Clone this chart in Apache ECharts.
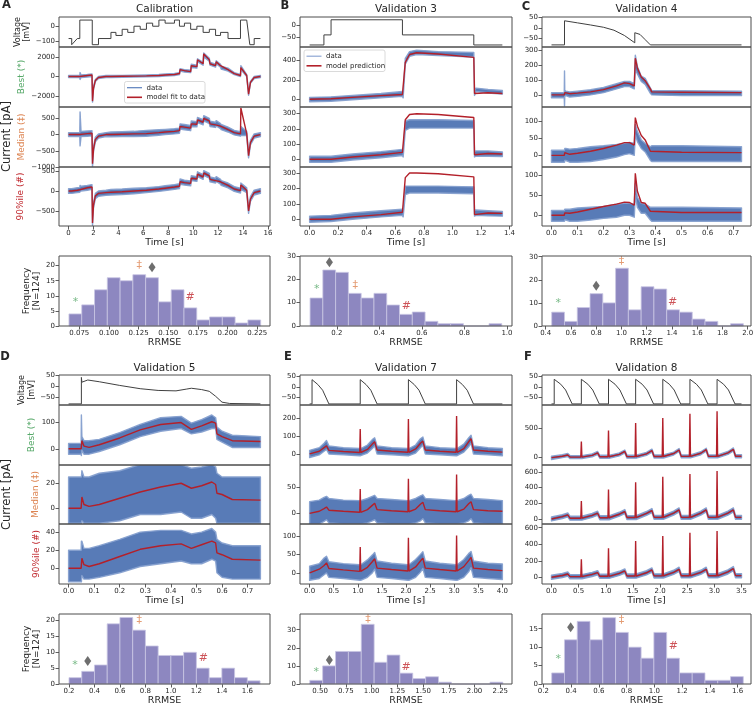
<!DOCTYPE html>
<html>
<head>
<meta charset="utf-8">
<script src="https://cdn.jsdelivr.net/npm/echarts@6.0.0/dist/echarts.min.js"></script>
<style>
  html, body { margin: 0; padding: 0; background: #fff; }
  #main { width: 756px; height: 706px; }
</style>
</head>
<body>
<div id="main"></div>
<script>
// ---------- A: Calibration ----------
const vAT = [0, 0.25, 0.25, 0.7, 0.9, 0.9, 1.9, 1.9, 2.4, 2.4, 3.4, 3.4, 3.8, 3.8, 4.3, 4.3, 4.75, 4.75, 5.25, 5.25, 5.75, 5.75, 6.25, 6.25, 6.75, 6.75, 7.25, 7.25, 7.75, 7.75, 8.5, 8.5, 8.9, 8.9, 9.3, 9.3, 9.8, 9.8, 10.3, 10.3, 10.8, 10.8, 11.3, 11.3, 11.8, 11.8, 12.2, 12.2, 12.8, 12.8, 13.8, 13.8, 14.3, 14.55, 14.9, 14.9, 15.4];
const vAV = [-80, -80, -120, -80, -80, 40, 40, -120, -120, -80, -80, -40, -40, -60, -60, -20, -20, -40, -40, 0, 0, -20, -20, 20, 20, 0, 0, 40, 40, 20, 20, 40, 40, 0, 0, 20, 20, -20, -20, 0, 0, -40, -40, -20, -20, -60, -60, -40, -40, -80, -80, 40, 40, -120, -120, -80, -80];
const tA = [0, 0.25, 0.7, 0.9, 0.92, 1.0, 1.5, 1.88, 1.92, 2.0, 2.15, 2.4, 3.0, 3.4, 4.3, 5.25, 6.25, 7.25, 7.75, 8.5, 8.9, 8.95, 9.3, 9.8, 9.85, 10.3, 10.35, 10.8, 10.85, 11.3, 11.35, 11.8, 11.85, 12.2, 12.25, 12.8, 13.3, 13.8, 13.83, 14.3, 14.45, 14.6, 14.9, 15.4];
const aBestModel = [0, 0, 0, 0, 50, 50, 100, 150, -2500, -1200, -400, -100, 0, 0, 20, 40, 60, 100, 150, 200, 300, 700, 600, 500, 1100, 1000, 1700, 1300, 2300, 1700, 1300, 1100, 1500, 1100, 900, 700, 300, 100, 900, 100, -1800, -600, -100, 0];
const aBestLo = [-100, -100, -100, -100, -300, -100, -50, 0, -2600, -1300, -500, -200, -100, -100, -80, -60, -40, 0, 50, 100, 200, 550, 450, 400, 900, 850, 1500, 1150, 2000, 1550, 1150, 950, 1300, 950, 750, 550, 200, 0, 700, 0, -1900, -700, -200, -100];
const aBestHi = [100, 100, 100, 100, 400, 150, 200, 250, -2300, -1000, -300, 0, 100, 100, 120, 140, 160, 200, 250, 300, 400, 800, 700, 650, 1250, 1150, 1800, 1450, 2400, 1850, 1450, 1250, 1600, 1250, 1050, 850, 400, 200, 1100, 200, -1600, -500, 0, 100];
const aMedModel = [0, 0, 0, 0, 20, 20, 30, 40, -900, -450, -150, -50, 0, 0, 10, 20, 30, 60, 80, 100, 120, 250, 230, 200, 330, 320, 450, 380, 500, 420, 330, 300, 350, 260, 230, 150, 60, 20, 820, 30, -650, -250, -50, 0];
const aMedLo = [-60, -60, -60, -60, -350, -60, -50, -40, -1000, -520, -220, -110, -60, -70, -60, -60, -50, -20, 0, 20, 40, 170, 150, 120, 250, 240, 370, 300, 420, 340, 250, 220, 270, 180, 150, 80, -10, -50, -30, -30, -720, -320, -110, -60];
const aMedHi = [60, 60, 60, 60, 700, 100, 110, 120, -800, -380, -80, 20, 60, 80, 90, 100, 130, 150, 160, 180, 200, 330, 310, 280, 420, 400, 530, 460, 580, 500, 410, 380, 430, 340, 310, 230, 130, 90, 250, 100, -580, -180, 20, 60];
const aP90Model = [0, 0, 20, 30, 60, 60, 80, 100, -800, -350, -120, -60, -40, -30, -20, 0, 20, 50, 70, 100, 120, 230, 210, 190, 320, 300, 420, 350, 450, 380, 290, 260, 300, 230, 200, 140, 50, 10, 150, 20, -500, -200, -40, 0];
const aP90Lo = [-60, -60, -40, -30, -20, 0, 20, 40, -860, -420, -190, -130, -110, -100, -90, -70, -40, -10, 10, 40, 60, 170, 150, 130, 260, 240, 360, 290, 390, 320, 230, 200, 240, 170, 140, 80, -10, -50, 40, -40, -560, -260, -100, -60];
const aP90Hi = [60, 60, 80, 90, 140, 120, 140, 160, -740, -290, -60, 0, 20, 40, 50, 70, 80, 110, 130, 160, 180, 300, 270, 250, 380, 360, 480, 410, 510, 440, 350, 320, 360, 290, 260, 200, 110, 70, 200, 80, -440, -140, 20, 60];
const histACounts = [4, 7, 12, 16, 15, 17, 16, 8, 12, 6, 2, 3, 3, 1, 2];
const histAStart = 0.0663, histAWidth = 0.01077;
const histAMarkX = [0.0719, 0.1256, 0.1683], histAMarkY = [7.8, 20.2, 9.4], histADiamond = [0.1363, 19.5];

// ---------- B: Validation 3 ----------
const vBT = [0, 0.1, 0.1, 0.15, 0.15, 0.65, 0.65, 1.15, 1.15, 1.35];
const vBV = [-80, -80, -40, -40, 20, 20, -40, -40, -80, -80];
const tB = [0, 0.15, 0.3, 0.5, 0.65, 0.655, 0.67, 0.7, 0.75, 0.9, 1.15, 1.155, 1.165, 1.25, 1.35];
const bBestModel = [0, 5, 20, 38, 50, 40, 380, 460, 478, 465, 430, 60, 75, 68, 60];
const bBestLo = [-25, -20, -5, 15, 30, 15, 360, 440, 460, 450, 435, 40, 80, 65, 55];
const bBestHi = [20, 25, 40, 60, 80, 60, 420, 490, 505, 490, 480, 80, 115, 100, 90];
const bMedModel = [0, 0, 15, 30, 45, 35, 260, 295, 300, 295, 275, 30, 40, 38, 35];
const bMedLo = [-20, -20, -5, 10, 25, 15, 190, 205, 205, 205, 205, 15, 20, 20, 18];
const bMedHi = [20, 20, 35, 50, 65, 55, 250, 260, 260, 260, 255, 50, 55, 55, 48];
const bP90Model = [0, 0, 15, 30, 45, 35, 270, 300, 300, 295, 275, 30, 42, 40, 38];
const bP90Lo = [-20, -15, 0, 15, 25, 15, 160, 170, 170, 170, 165, 20, 25, 22, 20];
const bP90Hi = [20, 25, 40, 55, 65, 55, 215, 215, 215, 215, 210, 55, 60, 55, 50];
const histBCounts = [12, 24, 23, 14, 12, 14, 9, 5, 6, 2, 1, 1, 0, 0, 1];
const histBStart = 0.074, histBWidth = 0.0601;
const histBMarkX = [0.1055, 0.2866, 0.527], histBMarkY = [15.8, 17.3, 8.3], histBDiamond = [0.165, 27.3];

// ---------- C: Validation 4 ----------
const vCT = [0, 0.05, 0.05, 0.1, 0.15, 0.2, 0.24, 0.28, 0.32, 0.32, 0.34, 0.36, 0.38, 0.73];
const vCV = [-80, -80, 35, 25, 15, 4, -10, -35, -70, -22, -30, -55, -80, -80];
const tC = [0, 0.049, 0.05, 0.051, 0.055, 0.07, 0.1, 0.15, 0.2, 0.25, 0.28, 0.3, 0.318, 0.322, 0.33, 0.345, 0.36, 0.38, 0.385, 0.5, 0.73];
const cBestModel = [0, 0, 5, 15, 20, 8, 12, 20, 35, 60, 80, 75, 60, 245, 180, 120, 95, 40, 20, 18, 15];
const cBestLo = [-20, -20, -75, -10, -5, -15, -10, 0, 15, 40, 55, 55, 40, 170, 140, 90, 70, 10, 0, -5, -5];
const cBestHi = [15, 15, 160, 30, 25, 20, 25, 35, 50, 75, 90, 90, 75, 265, 190, 125, 110, 45, 30, 28, 25];
const cMedModel = [0, 0, 2, 8, 10, 3, 6, 12, 20, 30, 37, 37, 30, 110, 85, 58, 45, 12, 10, 9, 8];
const cMedLo = [-20, -20, -20, -15, -15, -20, -20, -18, -12, -5, 2, 5, 0, 60, 40, 20, 10, -15, -18, -18, -18];
const cMedHi = [15, 15, 15, 20, 20, 18, 20, 25, 28, 32, 35, 38, 35, 90, 70, 45, 35, 25, 28, 28, 25];
const cP90Model = [0, 0, 2, 6, 8, 5, 8, 15, 22, 28, 33, 32, 25, 105, 60, 32, 30, 10, 8, 7, 7];
const cP90Lo = [-15, -15, -15, -12, -12, -15, -15, -12, -8, -5, 0, 0, -5, 50, 20, 5, 5, -12, -15, -15, -15];
const cP90Hi = [12, 12, 12, 15, 15, 15, 18, 20, 22, 28, 30, 30, 28, 80, 45, 30, 28, 20, 20, 20, 18];
const histCCounts = [6, 2, 8, 14, 10, 25, 7, 17, 16, 7, 6, 3, 2, 0, 1];
const histCStart = 0.4475, histCWidth = 0.1012;
const histCMarkX = [0.5, 1.0, 1.405], histCMarkY = [10, 28.2, 10.2], histCDiamond = [0.8, 17.4];

// ---------- D: Validation 5 ----------
const vDT = [0, 0.05, 0.05, 0.052, 0.075, 0.12, 0.2, 0.28, 0.35, 0.42, 0.46, 0.48, 0.52, 0.55, 0.575, 0.6, 0.63, 0.75];
const vDV = [-80, -80, 42, 20, 30, 22, 5, -10, -18, -20, -12, -8, -14, -22, -45, -72, -78, -80];
const tD = [0, 0.049, 0.05, 0.052, 0.06, 0.08, 0.12, 0.2, 0.28, 0.36, 0.44, 0.48, 0.52, 0.56, 0.575, 0.58, 0.6, 0.64, 0.75];
const dBestModel = [0, 0, 0, 30, 10, 5, 15, 40, 70, 90, 97, 72, 85, 100, 95, 55, 45, 30, 27];
const dBestLo = [-20, -20, -25, -5, -20, -20, -10, 15, 45, 65, 75, 55, 62, 75, 75, 35, 25, 5, 5];
const dBestHi = [20, 20, 125, 45, 30, 30, 35, 60, 90, 115, 120, 95, 108, 125, 115, 80, 65, 50, 45];
const dMedModel = [0, 0, 0, 9, 3, 1.5, 3, 8, 13, 17, 20, 16, 18, 21, 19, 12, 11, 7, 6.5];
const dMedLo = [-12, -12, -12, -10, -12, -12, -12, -10, -5, -5, -3, -8, -8, -5, -8, -12, -12, -12, -12];
const dMedHi = [25, 25, 25, 30, 25, 25, 28, 30, 35, 35, 35, 32, 33, 35, 33, 28, 25, 25, 25];
const dP90Model = [0, 0, 0, 11, 4, 2, 5, 13, 21, 25, 27, 22, 26, 30, 28, 17, 15, 10, 9];
const dP90Lo = [-15, -15, -15, -8, -12, -12, -10, -5, 2, 5, 8, 5, 5, 10, 8, -5, -10, -12, -12];
const dP90Hi = [20, 20, 30, 30, 22, 22, 25, 32, 40, 42, 42, 38, 40, 44, 40, 32, 28, 25, 25];
const histDCounts = [2, 4, 6, 19, 21, 17, 12, 9, 9, 10, 5, 2, 5, 2, 1];
const histDStart = 0.2, histDWidth = 0.1;
const histDMarkX = [0.247, 0.752, 1.254], histDMarkY = [5.8, 20.1, 8.1], histDDiamond = [0.347, 7.3];

// ---------- E: Validation 7 ----------
const vET = [0, 0.05, 0.05, 0.17, 0.27, 0.4, 1.05, 1.05, 1.17, 1.27, 1.4, 2.05, 2.05, 2.17, 2.27, 2.4, 3.05, 3.05, 3.17, 3.27, 3.4, 4.0];
const vEV = [-80, -80, 35, 12, -15, -80, -80, 35, 12, -15, -80, -80, 35, 12, -15, -80, -80, 35, 12, -15, -80, -80];
const tE = [0, 0.2, 0.3, 0.35, 0.4, 0.7, 1.04, 1.05, 1.06, 1.2, 1.3, 1.35, 1.4, 1.7, 2.04, 2.05, 2.06, 2.2, 2.3, 2.35, 2.4, 2.7, 3.04, 3.05, 3.06, 3.2, 3.3, 3.35, 3.4, 3.7, 4.0];
const eBestModel = [0, 15, 35, 45, 20, 14, 8, 140, 8, 25, 55, 68, 22, 15, 9, 195, 9, 28, 60, 72, 22, 15, 9, 212, 9, 30, 68, 85, 22, 15, 10];
const eBestLo = [-20, -5, 15, 25, 0, -5, -10, -10, -10, 5, 30, 45, 0, -5, -10, -10, -10, 5, 35, 50, 0, -5, -10, -10, -10, 10, 40, 60, 0, -5, -10];
const eBestHi = [20, 35, 60, 75, 45, 35, 30, 30, 30, 50, 80, 90, 45, 35, 30, 30, 30, 50, 85, 95, 45, 35, 30, 30, 30, 55, 90, 105, 45, 35, 30];
const eMedModel = [0, 4, 9, 12, 6, 4, 2, 46, 2, 7, 15, 19, 7, 5, 3, 65, 3, 8, 17, 21, 7, 5, 3, 73, 3, 8, 18, 22, 7, 5, 4];
const eMedLo = [-20, -20, -15, -12, -18, -20, -20, -20, -20, -18, -14, -12, -18, -20, -20, -20, -20, -18, -14, -10, -18, -20, -20, -20, -20, -18, -14, -10, -18, -20, -20];
const eMedHi = [22, 25, 30, 32, 28, 25, 24, 24, 24, 28, 32, 34, 28, 26, 24, 24, 24, 28, 33, 35, 28, 26, 24, 24, 24, 28, 34, 36, 28, 26, 24];
const eP90Model = [0, 10, 20, 27, 12, 8, 4, 70, 4, 15, 30, 38, 13, 9, 5, 95, 5, 16, 32, 40, 13, 9, 5, 101, 5, 17, 33, 42, 13, 9, 6];
const eP90Lo = [-20, -15, -5, 0, -12, -15, -20, -20, -20, -12, 0, 10, -12, -15, -20, -20, -20, -12, 2, 12, -12, -15, -20, -20, -20, -12, 3, 14, -12, -15, -18];
const eP90Hi = [18, 25, 40, 45, 30, 25, 22, 22, 22, 35, 48, 55, 32, 26, 22, 22, 22, 36, 50, 57, 32, 26, 22, 22, 22, 36, 52, 58, 32, 26, 24];
const histECounts = [2, 10, 18, 18, 33, 12, 16, 6, 3, 4, 1, 0, 0, 0, 1];
const histEStart = 0.4, histEWidth = 0.125;
const histEMarkX = [0.4626, 0.965, 1.335], histEMarkY = [6.5, 35.9, 9.3], histEDiamond = [0.59, 13.3];

// ---------- F: Validation 8 ----------
const vFT = [0, 0.05, 0.05, 0.17, 0.26, 0.38, 0.55, 0.55, 0.67, 0.76, 0.88, 1.05, 1.05, 1.17, 1.26, 1.38, 1.55, 1.55, 1.67, 1.76, 1.88, 2.05, 2.05, 2.17, 2.26, 2.38, 2.55, 2.55, 2.67, 2.76, 2.88, 3.05, 3.05, 3.17, 3.26, 3.38, 3.5];
const vFV = [-80, -80, 35, 12, -15, -80, -80, 35, 12, -15, -80, -80, 35, 12, -15, -80, -80, 35, 12, -15, -80, -80, 35, 12, -15, -80, -80, 35, 12, -15, -80, -80, 35, 12, -15, -80, -80];
const tF = [0, 0.2, 0.3, 0.34, 0.54, 0.55, 0.56, 0.75, 0.85, 0.89, 1.04, 1.05, 1.06, 1.25, 1.35, 1.39, 1.54, 1.55, 1.56, 1.75, 1.85, 1.89, 2.04, 2.05, 2.06, 2.25, 2.35, 2.39, 2.54, 2.55, 2.56, 2.75, 2.85, 2.89, 3.04, 3.05, 3.06, 3.25, 3.35, 3.39, 3.5];
const fBestModel = [0, 25, 45, 10, 10, 273, 10, 40, 80, 15, 15, 460, 15, 55, 105, 18, 18, 585, 18, 65, 120, 20, 20, 670, 20, 70, 130, 22, 22, 744, 22, 75, 135, 22, 22, 784, 22, 80, 140, 25, 25];
const fBestLo = [-30, 0, 20, -15, -15, -15, -15, 15, 55, -10, -10, -10, -10, 30, 80, -8, -8, -8, -8, 40, 95, -5, -5, -5, -5, 45, 105, -3, -3, -3, -3, 50, 110, -3, -3, -3, -3, 55, 115, 0, 0];
const fBestHi = [25, 50, 70, 35, 35, 35, 35, 65, 105, 40, 40, 40, 40, 80, 130, 43, 43, 43, 43, 90, 145, 45, 45, 45, 45, 95, 155, 47, 47, 47, 47, 100, 160, 47, 47, 47, 47, 105, 165, 50, 50];
const fMedModel = [0, 30, 51, 10, 10, 228, 10, 45, 73, 15, 15, 373, 15, 60, 94, 18, 18, 468, 18, 70, 107, 20, 20, 536, 20, 75, 116, 20, 20, 571, 20, 75, 116, 20, 20, 610, 20, 75, 116, 20, 20];
const fMedLo = [-25, 5, 26, -15, -15, -15, -15, 20, 48, -10, -10, -10, -10, 35, 69, -7, -7, -7, -7, 45, 82, -5, -5, -5, -5, 50, 91, -5, -5, -5, -5, 50, 91, -5, -5, -5, -5, 50, 91, -5, -5];
const fMedHi = [25, 55, 76, 35, 35, 35, 35, 70, 98, 40, 40, 40, 40, 85, 119, 43, 43, 43, 43, 95, 132, 45, 45, 45, 45, 100, 141, 45, 45, 45, 45, 100, 141, 45, 45, 45, 45, 100, 141, 45, 45];
const fP90Model = [0, 22, 40, 8, 8, 218, 8, 35, 56, 12, 12, 351, 12, 48, 77, 15, 15, 440, 15, 55, 89, 17, 17, 500, 17, 60, 97, 18, 18, 540, 18, 60, 97, 18, 18, 560, 18, 65, 105, 20, 20];
const fP90Lo = [-25, -3, 15, -17, -17, -17, -17, 10, 31, -13, -13, -13, -13, 23, 52, -10, -10, -10, -10, 30, 64, -8, -8, -8, -8, 35, 72, -7, -7, -7, -7, 35, 72, -7, -7, -7, -7, 40, 80, -5, -5];
const fP90Hi = [25, 47, 65, 33, 33, 33, 33, 60, 81, 37, 37, 37, 37, 73, 102, 40, 40, 40, 40, 80, 114, 42, 42, 42, 42, 85, 122, 43, 43, 43, 43, 85, 122, 43, 43, 43, 43, 90, 130, 45, 45];
const histFCounts = [3, 12, 17, 12, 18, 14, 10, 7, 14, 7, 3, 3, 1, 1, 2];
const histFStart = 0.2605, histFWidth = 0.092;
const histFMarkX = [0.308, 0.764, 1.136], histFMarkY = [6.7, 17.3, 10.2], histFDiamond = [0.397, 15.4];

// ---------- tick labels ----------
const timeTicksA = [0, 2, 4, 6, 8, 10, 12, 14, 16];
const timeTicksB = [0, 0.2, 0.4, 0.6, 0.8, 1.0, 1.2, 1.4];
const timeTicksCD = [0, 0.1, 0.2, 0.3, 0.4, 0.5, 0.6, 0.7];
const timeTicksE = [0, 0.5, 1.0, 1.5, 2.0, 2.5, 3.0, 3.5, 4.0];
const timeTicksF = [0, 0.5, 1.0, 1.5, 2.0, 2.5, 3.0, 3.5];
const rrmseTicksA = [0.075, 0.1, 0.125, 0.15, 0.175, 0.2, 0.225];
const rrmseTicksB = [0.2, 0.4, 0.6, 0.8, 1.0];
const rrmseTicksC = [0.4, 0.6, 0.8, 1.0, 1.2, 1.4, 1.6, 1.8, 2.0];
const rrmseTicksDF = [0.2, 0.4, 0.6, 0.8, 1.0, 1.2, 1.4, 1.6];
const rrmseTicksE = [0.5, 0.75, 1.0, 1.25, 1.5, 1.75, 2.0, 2.25];

// ---------- layout / style ----------
const FONT = 'DejaVu Sans';
const INK = '#262626';
const BLUE = '#4f74b3';
const BLUE_EDGE = '#86a0cf';
const RED = '#b3202a';
const GREEN = '#55a868';
const ORANGE = '#dd8452';
const DARKRED = '#c0282e';

const cols = [[59, 211], [300, 212], [542, 209]];
const rowTop = {v: [17, 30], c: [[47, 60], [107, 60], [167, 59]], h: [256, 70]};
const rowBot = {v: [375, 30], c: [[405, 60], [465, 59], [524, 60]], h: [614, 70]};

const panels = [
  {col: 0, row: rowTop, title: 'Calibration', titleY: 9.5, letter: 'A', letterXY: [6.5, 5],
   t: tA, x: [-0.77, 16.17], xTicks: timeTicksA, xDec: 0,
   vt: vAT, vv: vAV, vr: [-135, 60], vTicks: [-100, 0],
   cur: [
     {m: aBestModel, lo: aBestLo, hi: aBestHi, r: [-3100, 3000], ticks: [-2000, 0, 2000]},
     {m: aMedModel, lo: aMedLo, hi: aMedHi, r: [-1000, 850], ticks: [-1000, -500, 0, 500]},
     {m: aP90Model, lo: aP90Lo, hi: aP90Hi, r: [-875, 600], ticks: [-500, 0, 500]}],
   names: true, gaps: [27, 32, 32, 33, 16],
   hist: {start: histAStart, width: histAWidth, counts: histACounts, x: [0.0579, 0.2357], xTicks: rrmseTicksA, xDec: 3,
          y: [0, 23.2], yTicks: [0, 5, 10, 15, 20], mx: histAMarkX, my: histAMarkY, dm: histADiamond}},
  {col: 1, row: rowTop, title: 'Validation 3', titleY: 9.5, letter: 'B', letterXY: [285, 6.5],
   t: tB, x: [-0.0675, 1.4175], xTicks: timeTicksB, xDec: 1,
   vt: vBT, vv: vBV, vr: [-88, 31], vTicks: [-50, 0],
   cur: [
     {m: bBestModel, lo: bBestLo, hi: bBestHi, r: [-79, 537], ticks: [0, 200, 400]},
     {m: bMedModel, lo: bMedLo, hi: bMedHi, r: [-51, 344], ticks: [0, 100, 200, 300]},
     {m: bP90Model, lo: bP90Lo, hi: bP90Hi, r: [-44, 339], ticks: [0, 100, 200, 300]}],
   hist: {start: histBStart, width: histBWidth, counts: histBCounts, x: [0.0267, 1.0236], xTicks: rrmseTicksB, xDec: 1,
          y: [0, 30], yTicks: [0, 10, 20, 30], mx: histBMarkX, my: histBMarkY, dm: histBDiamond}},
  {col: 2, row: rowTop, title: 'Validation 4', titleY: 9.5, letter: 'C', letterXY: [526, 7],
   t: tC, x: [-0.0365, 0.7665], xTicks: timeTicksCD, xDec: 1,
   vt: vCT, vv: vCV, vr: [-90, 53], vTicks: [-50, 0, 50],
   cur: [
     {m: cBestModel, lo: cBestLo, hi: cBestHi, r: [-81, 320], ticks: [0, 100, 200, 300]},
     {m: cMedModel, lo: cMedLo, hi: cMedHi, r: [-34, 141], ticks: [0, 50, 100]},
     {m: cP90Model, lo: cP90Lo, hi: cP90Hi, r: [-27, 121], ticks: [0, 50, 100]}],
   hist: {start: histCStart, width: histCWidth, counts: histCCounts, x: [0.3707, 2.026], xTicks: rrmseTicksC, xDec: 1,
          y: [0, 30.3], yTicks: [0, 10, 20, 30], mx: histCMarkX, my: histCMarkY, dm: histCDiamond}},
  {col: 0, row: rowBot, title: 'Validation 5', titleY: 368.5, letter: 'D', letterXY: [5, 357.5],
   t: tD, x: [-0.0375, 0.7875], xTicks: timeTicksCD, xDec: 1,
   vt: vDT, vv: vDV, vr: [-85, 53], vTicks: [-50, 0, 50],
   cur: [
     {m: dBestModel, lo: dBestLo, hi: dBestHi, r: [-60, 162], ticks: [0, 100]},
     {m: dMedModel, lo: dMedLo, hi: dMedHi, r: [-12.6, 34.6], ticks: [0, 20]},
     {m: dP90Model, lo: dP90Lo, hi: dP90Hi, r: [-17.4, 49], ticks: [0, 20, 40]}],
   names: true, gaps: [22, 22, 18, 17, 17],
   hist: {start: histDStart, width: histDWidth, counts: histDCounts, x: [0.1215, 1.778], xTicks: rrmseTicksDF, xDec: 1,
          y: [0, 22.1], yTicks: [0, 5, 10, 15, 20], mx: histDMarkX, my: histDMarkY, dm: histDDiamond}},
  {col: 1, row: rowBot, title: 'Validation 7', titleY: 368.5, letter: 'E', letterXY: [288, 357.5],
   t: tE, x: [-0.2, 4.2], xTicks: timeTicksE, xDec: 1,
   vt: vET, vv: vEV, vr: [-85, 57], vTicks: [-50, 0, 50],
   cur: [
     {m: eBestModel, lo: eBestLo, hi: eBestHi, r: [-62, 274], ticks: [0, 100, 200]},
     {m: eMedModel, lo: eMedLo, hi: eMedHi, r: [-20, 91], ticks: [0, 50]},
     {m: eP90Model, lo: eP90Lo, hi: eP90Hi, r: [-30, 132], ticks: [0, 50, 100]}],
   hist: {start: histEStart, width: histEWidth, counts: histECounts, x: [0.305, 2.364], xTicks: rrmseTicksE, xDec: 2,
          y: [0, 38.7], yTicks: [0, 10, 20, 30], mx: histEMarkX, my: histEMarkY, dm: histEDiamond}},
  {col: 2, row: rowBot, title: 'Validation 8', titleY: 368.5, letter: 'F', letterXY: [528, 357.5],
   t: tF, x: [-0.175, 3.675], xTicks: timeTicksF, xDec: 1,
   vt: vFT, vv: vFV, vr: [-85, 55], vTicks: [-50, 0, 50],
   cur: [
     {m: fBestModel, lo: fBestLo, hi: fBestHi, r: [-124, 892], ticks: [0, 500]},
     {m: fMedModel, lo: fMedLo, hi: fMedHi, r: [-64, 686], ticks: [0, 200, 400, 600]},
     {m: fP90Model, lo: fP90Lo, hi: fP90Hi, r: [-81, 645], ticks: [0, 200, 400, 600]}],
   hist: {start: histFStart, width: histFWidth, counts: histFCounts, x: [0.1906, 1.696], xTicks: rrmseTicksDF, xDec: 1,
          y: [0, 19], yTicks: [0, 5, 10, 15], mx: histFMarkX, my: histFMarkY, dm: histFDiamond}}
];

const yNames = ['Voltage\n[mV]', 'Best (*)', 'Median (\u2021)', '90%ile (#)', 'Frequency\n[N=124]'];
const yNameColors = [INK, GREEN, ORANGE, DARKRED, INK];
const yNameSizes = [8, 9, 9, 9, 9];

const grid = [], xAxis = [], yAxis = [], series = [], graphic = [];

function fmt(v, dec) { return v.toFixed(dec).replace('-', '\u2212'); }

function addGrid(left, top, width, height, xr, yr, o) {
  const i = grid.length;
  grid.push({left: left, top: top, width: width, height: height, containLabel: false, outerBoundsMode: 'none'});
  // frame drawn on top so that dense traces never hide the spines
  graphic.push({type: 'rect', silent: true, z: 100,
    shape: {x: left, y: top, width: width, height: height},
    style: {fill: 'none', stroke: '#4d4d4d', lineWidth: 1}});
  const tick = {length: 3.5, lineStyle: {color: '#333', width: 0.8}};
  xAxis.push({
    type: 'value', gridIndex: i, min: xr[0], max: xr[1],
    axisLine: {show: false, onZero: false}, splitLine: {show: false},
    axisTick: o.xTicks ? Object.assign({show: true, customValues: o.xTicks}, tick) : {show: false},
    axisLabel: o.xTicks ? {show: true, customValues: o.xTicks, formatter: v => fmt(v, o.xDec),
      fontSize: 7, fontFamily: FONT, color: INK, margin: 4} : {show: false},
    name: o.xName || '', nameLocation: 'middle', nameGap: 12,
    nameTextStyle: {fontSize: 9.5, fontFamily: FONT, color: INK}
  });
  yAxis.push({
    type: 'value', gridIndex: i, min: yr[0], max: yr[1],
    axisLine: {show: false, onZero: false}, splitLine: {show: false},
    axisTick: Object.assign({show: true, customValues: o.yTicks}, tick),
    axisLabel: {show: true, customValues: o.yTicks, formatter: v => fmt(v, 0),
      fontSize: 7, fontFamily: FONT, color: INK, margin: 4},
    name: o.yName || '', nameLocation: 'middle', nameRotate: 90, nameGap: o.yGap || 20,
    nameTextStyle: {fontSize: o.yFont || 9, lineHeight: (o.yFont || 9) + 1.5, fontFamily: FONT, color: o.yColor || INK}
  });
  return i;
}

function addLine(g, t, v, color, width, z) {
  series.push({type: 'line', xAxisIndex: g, yAxisIndex: g, silent: true, z: z,
    data: t.map((tt, k) => [tt, v[k]]), symbol: 'none', showSymbol: false,
    lineStyle: {color: color, width: width}, itemStyle: {color: color}});
}

// recorded trace: drawn as its min/max envelope
function addBand(g, t, lo, hi) {
  series.push({type: 'custom', xAxisIndex: g, yAxisIndex: g, silent: true, clip: true, z: 2,
    data: [[t[0], lo[0]]],
    renderItem: (params, api) => {
      const pts = [];
      for (let k = 0; k < t.length; k++) pts.push(api.coord([t[k], hi[k]]));
      for (let k = t.length - 1; k >= 0; k--) pts.push(api.coord([t[k], lo[k]]));
      return {type: 'polygon', shape: {points: pts},
        style: {fill: BLUE, stroke: BLUE_EDGE, lineWidth: 1.4, lineJoin: 'round', opacity: 0.95}};
    }});
}

function addHist(g, h) {
  series.push({type: 'custom', xAxisIndex: g, yAxisIndex: g, silent: true, z: 2,
    data: h.counts.map((c, k) => [h.start + k * h.width, h.start + (k + 1) * h.width, c]),
    encode: {x: [0, 1], y: 2},
    renderItem: (params, api) => {
      const a = api.coord([api.value(0), 0]);
      const b = api.coord([api.value(1), api.value(2)]);
      return {type: 'rect', shape: {x: a[0], y: b[1], width: b[0] - a[0], height: a[1] - b[1]},
        style: {fill: '#8d87c0', stroke: '#c9c6e3', lineWidth: 0.8}};
    }});
  const glyphs = ['*', '\u2021', '#'];
  const colors = [GREEN, ORANGE, DARKRED];
  series.push({type: 'scatter', xAxisIndex: g, yAxisIndex: g, silent: true, z: 5,
    symbol: 'circle', symbolSize: 1, itemStyle: {color: 'rgba(0,0,0,0)'},
    data: h.mx.map((x, k) => ({value: [x, h.my[k]],
      label: {show: true, position: 'inside', formatter: glyphs[k], color: colors[k],
        fontSize: 11, fontFamily: FONT}}))});
  series.push({type: 'scatter', xAxisIndex: g, yAxisIndex: g, silent: true, z: 5,
    symbol: 'diamond', symbolSize: [7, 10], itemStyle: {color: '#4a4a4a'},
    data: [h.dm]});
}

function text(x, y, str, font, opts) {
  graphic.push(Object.assign({type: 'text', x: x, y: y, silent: true, z: 110,
    style: {text: str, font: font, fill: INK, textAlign: 'center', textVerticalAlign: 'middle'}}, opts || {}));
}

panels.forEach(p => {
  const [left, width] = cols[p.col];
  const r = p.row;
  const nm = k => p.names ? {yName: yNames[k], yGap: p.gaps[k], yColor: yNameColors[k], yFont: yNameSizes[k]} : {};

  const gv = addGrid(left, r.v[0], width, r.v[1], p.x, p.vr, Object.assign({yTicks: p.vTicks}, nm(0)));
  addLine(gv, p.vt, p.vv, '#404040', 1, 3);

  p.cur.forEach((c, k) => {
    const last = k === 2;
    const g = addGrid(left, r.c[k][0], width, r.c[k][1], p.x, c.r,
      Object.assign({yTicks: c.ticks, xTicks: last ? p.xTicks : null, xDec: p.xDec, xName: last ? 'Time [s]' : ''}, nm(k + 1)));
    addBand(g, p.t, c.lo, c.hi);
    addLine(g, p.t, c.m, RED, 1.4, 3);
  });

  const h = p.hist;
  const gh = addGrid(left, r.h[0], width, r.h[1], h.x, h.y,
    Object.assign({yTicks: h.yTicks, xTicks: h.xTicks, xDec: h.xDec, xName: 'RRMSE'}, nm(4)));
  addHist(gh, h);

  text(left + width / 2, p.titleY, p.title, '10.5px "DejaVu Sans"');
  text(p.letterXY[0], p.letterXY[1], p.letter, 'bold 11.5px "DejaVu Sans"');
});

// shared y label for the current rows
text(7, 136.5, 'Current [pA]', '11.5px "DejaVu Sans"', {rotation: Math.PI / 2});
text(7, 494.5, 'Current [pA]', '11.5px "DejaVu Sans"', {rotation: Math.PI / 2});

// legends
function legend(x, y, w, h, labels, dataColor) {
  graphic.push({type: 'rect', silent: true, z: 105, shape: {x: x, y: y, width: w, height: h, r: 2},
    style: {fill: 'rgba(255,255,255,0.85)', stroke: '#d0d0d0', lineWidth: 0.8}});
  const y1 = y + 6.2, y2 = y + 15.8;
  graphic.push({type: 'line', silent: true, z: 106, shape: {x1: x + 2.5, y1: y1, x2: x + 17.5, y2: y1},
    style: {stroke: dataColor, lineWidth: 1.2}});
  graphic.push({type: 'line', silent: true, z: 106, shape: {x1: x + 2.5, y1: y2, x2: x + 17.5, y2: y2},
    style: {stroke: RED, lineWidth: 1.6}});
  graphic.push({type: 'text', silent: true, z: 106, x: x + 22, y: y1,
    style: {text: labels[0], font: '7px "DejaVu Sans"', fill: INK, textAlign: 'left', textVerticalAlign: 'middle'}});
  graphic.push({type: 'text', silent: true, z: 106, x: x + 22, y: y2,
    style: {text: labels[1], font: '7px "DejaVu Sans"', fill: INK, textAlign: 'left', textVerticalAlign: 'middle'}});
}
legend(124.5, 81.5, 80.5, 21.5, ['data', 'model fit to data'], '#5b7fbd');
legend(304, 50, 81, 21.5, ['data', 'model prediction'], '#8fa6d3');

const chart = echarts.init(document.getElementById('main'), null, {renderer: 'canvas'});
chart.setOption({
  animation: false,
  backgroundColor: '#ffffff',
  grid: grid,
  xAxis: xAxis,
  yAxis: yAxis,
  series: series,
  graphic: graphic
});
</script>
</body>
</html>
